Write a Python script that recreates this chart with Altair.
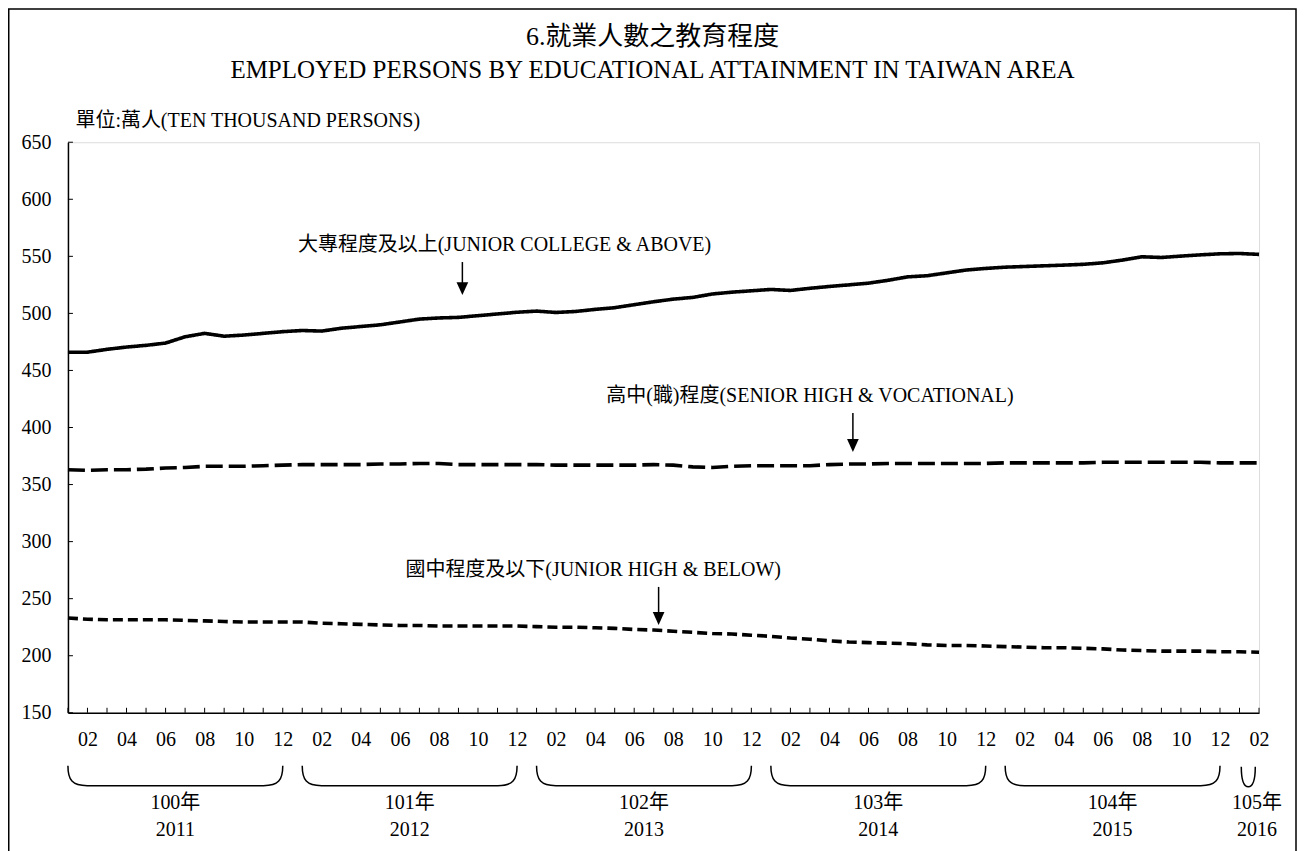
import json
import altair as alt
import pandas as pd

# ---------------- data ----------------
month_index = list(range(62))  # 2011-01 ... 2016-02
college = [466, 466, 468.5, 470.5, 472, 474, 479.5, 482.5, 480, 481, 482.5, 484,
           485, 484.5, 487, 488.5, 490, 492.5, 495, 496, 496.5, 498, 499.5, 501,
           502, 500.8, 501.7, 503.5, 505, 507.6, 510.2, 512.5, 514, 517, 518.6, 519.8,
           521, 520.1, 522, 523.6, 525, 526.5, 529, 532, 533, 535.5, 538, 539.4,
           540.5, 541.1, 541.7, 542.3, 543, 544.3, 546.7, 549.6, 549, 550.2, 551.3, 552.2,
           552.5, 551.7]
senior = [363, 362.5, 363, 363, 363.5, 364.5, 365, 366, 366, 366, 366.5, 367,
          367.5, 367.5, 367.5, 367.5, 368, 368, 368.5, 368.5, 367.5, 367.5, 367.5, 367.5,
          367.5, 367, 367, 367, 367, 367, 367.5, 367, 365.5, 365, 366, 366.5,
          366.5, 366.5, 366.5, 367.5, 368, 368, 368.5, 368.5, 368.5, 368.5, 368.5, 368.5,
          369, 369, 369, 369, 369, 369.5, 369.5, 369.5, 369.5, 369.5, 369.5, 369,
          369, 369]
junior = [233, 232, 231.5, 231.5, 231.5, 231.5, 231, 230.5, 230, 229.5, 229.5, 229.5,
          229.5, 228.5, 228, 227.5, 227, 226.5, 226.5, 226, 226, 226, 226, 226,
          225.5, 225, 225, 224.5, 224, 223, 222.5, 221.5, 220.5, 219.5, 219, 218,
          217, 215.5, 214.5, 213, 212, 211.5, 211, 210.5, 209.5, 209, 209, 208.5,
          208, 207.5, 207, 207, 206.5, 206, 205, 204.5, 204, 204, 204, 203.5,
          203.5, 203]
series_names = ["大專程度及以上", "高中(職)程度", "國中程度及以下"]

tick_labels = ["", "02", "", "04", "", "06", "", "08", "", "10", "", "12"] * 5 + ["", "02"]
y_tick_values = [150, 200, 250, 300, 350, 400, 450, 500, 550, 600, 650]

ann_texts = ["大專程度及以上(JUNIOR COLLEGE & ABOVE)",
             "高中(職)程度(SENIOR HIGH & VOCATIONAL)",
             "國中程度及以下(JUNIOR HIGH & BELOW)"]
ann_x = [22.36, 38.0, 26.9]
ann_y = [559.8, 427.6, 275.2]
arrow_x = [20.2, 40.2, 30.25]
arrow_top = [545.0, 412.7, 260.3]
arrow_head = [521.7, 384.2, 232.7]

year_roc = ["100年", "101年", "102年", "103年", "104年", "105年"]
year_ad = ["2011", "2012", "2013", "2014", "2015", "2016"]
year_label_x = [5.5, 17.5, 29.5, 41.5, 53.5, 60.9]
bracket_x = [5.5, 17.5, 29.5, 41.5, 53.5]
bracket_last_x = [60.45]

title_line1 = ["6.就業人數之教育程度"]
title_line2 = ["EMPLOYED PERSONS BY EDUCATIONAL ATTAINMENT IN TAIWAN AREA"]
unit_label = "單位:萬人(TEN THOUSAND PERSONS)"

# ---------------- layout constants ----------------
W, H = 1192, 571
FONT = "Liberation Serif, Noto Sans CJK TC, serif"
FS = 20

rows = []
for name, vals in zip(series_names, [college, senior, junior]):
    for i, v in zip(month_index, vals):
        rows.append({"idx": i, "value": v, "series": name})
df = pd.DataFrame(rows)

xscale = alt.Scale(domain=[0, 61], nice=False, zero=False)
yscale = alt.Scale(domain=[150, 650], nice=False, zero=False)

label_values = [i for i, t in enumerate(tick_labels) if t]
label_expr = json.dumps(tick_labels, ensure_ascii=False) + "[datum.value]"

x_axis = alt.Axis(values=label_values, labelExpr=label_expr, ticks=False, tickSize=0,
                  grid=False, domainColor="black", domainWidth=1.5, labelFont=FONT,
                  labelFontSize=FS, labelColor="black", labelPadding=17,
                  labelFlush=False, labelOverlap=False, labelSeparation=0,
                  labelBound=False, title=None)
y_axis = alt.Axis(values=y_tick_values, ticks=False, tickSize=0, grid=False,
                  domainColor="black", domainWidth=1.5, labelFont=FONT, labelFontSize=FS,
                  labelColor="black", labelPadding=17, labelFlush=False, labelOverlap=False,
                  title=unit_label, titleAngle=0, titleAlign="left", titleBaseline="middle",
                  titleX=7, titleY=-22, titleFont=FONT, titleFontSize=FS,
                  titleFontWeight="normal", titleColor="black")


def X(field):
    return alt.X(field, type="quantitative", scale=xscale, axis=x_axis)


def Y(field):
    return alt.Y(field, type="quantitative", scale=yscale, axis=y_axis)


lines = alt.Chart(df).mark_line(strokeWidth=3.6, color="black", strokeCap="butt").encode(
    x=X("idx"),
    y=Y("value"),
    strokeDash=alt.StrokeDash("series:N", scale=alt.Scale(domain=series_names,
                              range=[[1, 0], [17, 6], [10, 5]]), legend=None),
    detail="series:N",
)

# inward tick marks
xticks_df = pd.DataFrame({"idx": month_index})
xticks = alt.Chart(xticks_df).mark_rule(color="black", strokeWidth=1).encode(
    x=X("idx"), y=alt.value(H), y2=alt.value(H - 5))
yticks_df = pd.DataFrame({"v": y_tick_values})
yticks = alt.Chart(yticks_df).mark_rule(color="black", strokeWidth=1).encode(
    y=Y("v"), x=alt.value(0), x2=alt.value(5))

# annotations
ann_df = pd.DataFrame({"text": ann_texts, "x": ann_x, "y": ann_y,
                       "ax": arrow_x, "atop": arrow_top, "ahead": arrow_head})
ann_text = alt.Chart(ann_df).mark_text(font=FONT, fontSize=FS, color="black",
                                       baseline="middle", align="center").encode(
    x=X("x"), y=Y("y"), text="text:N")
ann_shaft = alt.Chart(ann_df).mark_rule(color="black", strokeWidth=1.5).encode(
    x=X("ax"), y=Y("atop"), y2="ahead:Q")
ann_head = alt.Chart(ann_df).mark_point(shape="M 0 1 L -0.9 -1 L 0.9 -1 Z", filled=True,
                                        color="black", size=169, opacity=1).encode(
    x=X("ax"), y=Y("ahead"))

# year brackets and labels
br_df = pd.DataFrame({"x": bracket_x})
brackets = alt.Chart(br_df).mark_point(
    shape="M -1 -0.093 C -1 0.04 -0.96 0.093 -0.82 0.093 L 0.82 0.093 C 0.96 0.093 1 0.04 1 -0.093",
    filled=False, color="black", strokeWidth=1.5, size=215 * 215, opacity=1).encode(
    x=X("x"), y=alt.value(H + 63))
br_last_df = pd.DataFrame({"x": bracket_last_x})
bracket_last = alt.Chart(br_last_df).mark_point(
    shape="M -0.7 -1 C -0.7 0.5 -0.45 1 0 1 C 0.45 1 0.7 0.5 0.7 -1",
    filled=False, color="black", strokeWidth=1.5, size=400, opacity=1).encode(
    x=X("x"), y=alt.value(H + 64))

yr_df = pd.DataFrame({"x": year_label_x, "roc": year_roc, "ad": year_ad})
yr_roc = alt.Chart(yr_df).mark_text(font=FONT, fontSize=FS, color="black",
                                    baseline="middle").encode(
    x=X("x"), y=alt.value(H + 90), text="roc:N")
yr_ad = alt.Chart(yr_df).mark_text(font=FONT, fontSize=FS, color="black",
                                   baseline="middle").encode(
    x=X("x"), y=alt.value(H + 117), text="ad:N")

# titles
t1 = alt.Chart(pd.DataFrame({"t": title_line1})).mark_text(
    font=FONT, fontSize=26, color="black", baseline="middle", align="center").encode(
    x=alt.value(W / 2 - 11), y=alt.value(-105), text="t:N")
t2 = alt.Chart(pd.DataFrame({"t": title_line2})).mark_text(
    font=FONT, fontSize=25, color="black", baseline="middle", align="center").encode(
    x=alt.value(W / 2 - 11), y=alt.value(-72), text="t:N")

# outer frame of the whole figure
frame = alt.Chart(pd.DataFrame({"a": [0]})).mark_rect(
    fillOpacity=0, stroke="black", strokeWidth=1.5).encode(
    x=alt.value(-59.25), x2=alt.value(1229), y=alt.value(-133.25), y2=alt.value(H + 160))

chart = alt.layer(
    frame, t1, t2, lines, xticks, yticks, ann_text, ann_shaft, ann_head,
    brackets, bracket_last, yr_roc, yr_ad,
).properties(
    width=W, height=H,
    padding={"left": 60, "top": 134, "right": 38, "bottom": 140},
    autosize=alt.AutoSizeParams(type="none"),
).configure_view(
    stroke="#888888", strokeWidth=1.5,
).configure(background="white")

chart.save("out.html", embed_options={"renderer": "svg", "actions": False})
